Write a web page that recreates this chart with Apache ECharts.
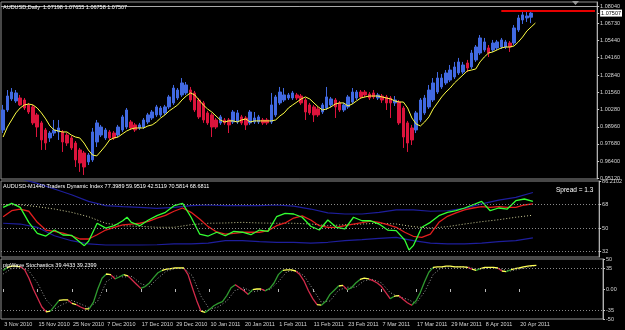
<!DOCTYPE html>
<html><head><meta charset="utf-8">
<script src="https://cdn.jsdelivr.net/npm/echarts@6/dist/echarts.min.js"></script>
<style>html,body{margin:0;padding:0;background:#000}#c{width:625px;height:330px}</style>
</head><body><div id="c"></div><script>
// ---------- data ----------
const monthNames = ['Jan','Feb','Mar','Apr','May','Jun','Jul','Aug','Sep','Oct','Nov','Dec'];
const barCount = 140; // includes empty chart-shift space on the right
const opens = [0.9873,1.0023,1.0106,1.0091,1.0113,1.0098,1.0061,1.0046,0.9986,0.9926,
0.9873,0.9813,0.9850,0.9858,0.9858,0.9835,0.9813,0.9775,0.9723,0.9700,
0.9633,0.9648,0.9783,0.9835,0.9813,0.9858,0.9850,0.9835,0.9873,0.9895,
0.9933,0.9911,0.9888,0.9895,0.9933,0.9963,0.9986,0.9986,1.0001,1.0046,
1.0076,1.0113,1.0136,1.0151,1.0173,1.0151,1.0098,1.0076,1.0001,0.9986,
0.9948,0.9926,0.9948,0.9948,0.9933,0.9933,0.9971,0.9963,0.9926,0.9933,
0.9933,0.9948,0.9948,0.9933,0.9986,1.0076,1.0098,1.0113,1.0113,1.0136,
1.0128,1.0098,1.0061,1.0046,1.0031,1.0008,1.0038,1.0061,1.0098,1.0076,
1.0023,1.0046,1.0083,1.0113,1.0158,1.0158,1.0143,1.0151,1.0113,1.0128,
1.0121,1.0113,1.0076,1.0083,1.0038,0.9926,0.9888,0.9873,0.9948,1.0001,
1.0046,1.0098,1.0158,1.0196,1.0226,1.0248,1.0271,1.0301,1.0308,1.0376,
1.0346,1.0399,1.0451,1.0474,1.0489,1.0474,1.0489,1.0496,1.0496,1.0526,
1.0526,1.0624,1.0699,1.0714,1.07198];
const closes = [1.0023,1.0128,1.0158,1.0151,1.0061,1.0038,1.0008,0.9926,0.9895,0.9798,
0.9775,0.9850,0.9873,0.9888,0.9783,0.9775,0.9738,0.9648,0.9625,0.9595,
0.9685,0.9858,0.9926,0.9895,0.9873,0.9813,0.9813,0.9895,0.9971,1.0023,
0.9888,0.9873,0.9911,0.9948,0.9986,1.0008,1.0046,1.0038,1.0046,1.0121,
1.0188,1.0173,1.0226,1.0211,1.0098,1.0023,0.9971,0.9948,0.9926,0.9895,
0.9895,0.9971,0.9926,0.9911,1.0008,1.0001,0.9926,0.9911,1.0008,0.9963,
0.9971,0.9926,0.9926,1.0061,1.0121,1.0158,1.0136,1.0136,1.0151,1.0113,
1.0076,1.0008,1.0001,0.9986,0.9986,1.0061,1.0121,1.0106,1.0046,1.0023,
1.0061,1.0121,1.0158,1.0158,1.0121,1.0136,1.0113,1.0121,1.0136,1.0098,
1.0076,1.0076,1.0098,0.9926,0.9820,0.9775,0.9798,1.0001,1.0098,1.0113,
1.0173,1.0226,1.0263,1.0263,1.0301,1.0323,1.0346,1.0384,1.0361,1.0338,
1.0451,1.0496,1.0564,1.0534,1.0451,1.0526,1.0534,1.0549,1.0534,1.0496,
1.0639,1.0714,1.0737,1.0729,1.07507];
const lows = [0.9850,1.0008,1.0091,1.0076,1.0053,1.0023,0.9993,0.9911,0.9820,0.9723,
0.9723,0.9783,0.9828,0.9798,0.9708,0.9753,0.9723,0.9595,0.9558,0.9535,
0.9610,0.9633,0.9745,0.9820,0.9798,0.9798,0.9798,0.9820,0.9858,0.9880,
0.9873,0.9858,0.9873,0.9880,0.9918,0.9948,0.9971,0.9971,0.9986,1.0031,
1.0061,1.0098,1.0121,1.0136,1.0083,1.0008,0.9956,0.9926,0.9911,0.9820,
0.9880,0.9911,0.9911,0.9850,0.9918,0.9918,0.9911,0.9873,0.9911,0.9918,
0.9918,0.9911,0.9911,0.9918,0.9971,1.0061,1.0083,1.0098,1.0098,1.0098,
1.0061,0.9948,0.9986,0.9933,0.9971,0.9993,1.0023,1.0046,0.9963,1.0008,
1.0008,1.0031,1.0068,1.0098,1.0106,1.0121,1.0098,1.0106,1.0098,1.0076,
1.0023,0.9963,1.0053,0.9911,0.9738,0.9708,0.9760,0.9850,0.9933,0.9986,
1.0031,1.0083,1.0143,1.0181,1.0211,1.0233,1.0256,1.0286,1.0293,1.0308,
1.0331,1.0384,1.0436,1.0459,1.0421,1.0459,1.0474,1.0481,1.0481,1.0459,
1.0511,1.0609,1.0669,1.0684,1.06758];
const highs = [1.0061,1.0173,1.0188,1.0173,1.0136,1.0113,1.0076,1.0061,1.0001,0.9941,
0.9888,0.9865,0.9948,0.9948,0.9873,0.9850,0.9828,0.9790,0.9738,0.9715,
0.9700,0.9888,0.9948,0.9911,0.9888,0.9873,0.9865,0.9911,0.9986,1.0038,
0.9948,0.9926,0.9926,0.9963,1.0001,1.0023,1.0061,1.0053,1.0061,1.0136,
1.0211,1.0188,1.0263,1.0233,1.0196,1.0166,1.0113,1.0091,1.0016,1.0001,
0.9963,0.9986,0.9963,0.9963,1.0023,1.0023,0.9986,0.9978,1.0023,1.0008,
0.9986,0.9963,0.9963,1.0151,1.0136,1.0196,1.0188,1.0151,1.0166,1.0151,
1.0143,1.0113,1.0076,1.0061,1.0046,1.0076,1.0196,1.0121,1.0113,1.0091,
1.0076,1.0136,1.0188,1.0173,1.0173,1.0173,1.0158,1.0173,1.0151,1.0143,
1.0136,1.0128,1.0128,1.0098,1.0053,0.9941,0.9911,1.0016,1.0113,1.0136,
1.0211,1.0263,1.0308,1.0293,1.0323,1.0361,1.0384,1.0414,1.0384,1.0399,
1.0474,1.0511,1.0586,1.0564,1.0511,1.0549,1.0549,1.0564,1.0549,1.0541,
1.0661,1.0737,1.0759,1.0759,1.07655];
const maValues = [0.9820,0.9895,0.9948,1.0001,1.0038,1.0061,1.0068,1.0061,1.0038,1.0001,
0.9956,0.9903,0.9873,0.9865,0.9858,0.9858,0.9835,0.9820,0.9813,0.9775,
0.9723,0.9685,0.9678,0.9715,0.9753,0.9798,0.9813,0.9820,0.9843,0.9865,
0.9880,0.9888,0.9888,0.9888,0.9903,0.9911,0.9933,0.9963,0.9986,1.0016,
1.0038,1.0061,1.0098,1.0128,1.0151,1.0136,1.0098,1.0061,1.0031,1.0008,
0.9978,0.9948,0.9933,0.9941,0.9941,0.9933,0.9948,0.9956,0.9933,0.9941,
0.9941,0.9941,0.9941,0.9941,0.9948,0.9978,1.0001,1.0038,1.0061,1.0083,
1.0106,1.0121,1.0106,1.0076,1.0046,1.0023,1.0031,1.0046,1.0068,1.0076,
1.0076,1.0053,1.0068,1.0091,1.0113,1.0121,1.0128,1.0128,1.0128,1.0121,
1.0113,1.0106,1.0091,1.0083,1.0083,1.0038,0.9963,0.9918,0.9903,0.9933,
0.9971,1.0031,1.0076,1.0121,1.0158,1.0188,1.0226,1.0256,1.0286,1.0316,
1.0323,1.0331,1.0384,1.0421,1.0451,1.0459,1.0474,1.0489,1.0496,1.0496,
1.0504,1.0534,1.0571,1.0616,1.0646,1.0676];
const bidPrice = 1.07507;
const resistancePrice = 1.0772;
const priceTicks = [1.0804,1.07507,1.0673,1.0544,1.0416,1.0284,1.0156,1.0028,0.9896,0.9768,0.9640,0.9512];

// Traders Dynamic Index: [bar index, value]
const tdiRsi = [[0,66.0],[2,69.1],[4,66.0],[6,54.5],[8,46.1],[10,44.0],[12,48.6],[14,44.8],[16,44.5],[18,39.2],[19,36.6],[20,40.0],[22,53.8],[24,50.1],[26,51.9],[28,55.7],[29,58.4],[30,54.5],[32,51.9],[34,56.3],[36,59.6],[38,62.2],[40,67.3],[42,69.1],[44,58.4],[46,45.5],[48,44.0],[50,46.9],[52,44.2],[54,47.6],[56,46.9],[58,45.0],[60,48.6],[62,47.6],[64,58.8],[66,61.4],[68,60.9],[70,58.4],[72,51.5],[74,48.6],[76,56.3],[78,50.7],[80,49.4],[82,58.4],[84,55.7],[86,55.7],[88,53.2],[90,48.6],[92,48.1],[94,40.9],[95,33.3],[96,36.6],[98,50.7],[100,54.5],[102,59.6],[104,62.2],[106,63.4],[108,65.5],[110,68.0],[112,70.6],[114,63.4],[116,65.5],[118,64.7],[120,71.1],[122,72.4],[124,70.58]];
const tdiSignal = [[0,58.8],[2,63.4],[4,64.7],[6,63.0],[8,54.5],[10,48.6],[12,47.6],[14,46.3],[16,44.2],[18,41.7],[20,41.7],[22,45.0],[24,48.6],[26,50.7],[28,52.5],[30,53.2],[32,53.8],[34,55.3],[36,57.8],[38,59.9],[40,63.0],[42,65.5],[44,62.2],[46,57.1],[48,51.2],[50,47.1],[52,45.5],[54,46.1],[56,46.9],[58,46.9],[60,46.9],[62,48.1],[64,51.9],[66,54.0],[68,57.8],[70,59.4],[72,56.3],[74,51.9],[76,50.7],[78,50.7],[80,51.9],[82,53.2],[84,54.2],[86,55.5],[88,54.5],[90,52.7],[92,50.7],[94,46.9],[96,43.8],[98,43.0],[100,45.5],[102,54.5],[104,59.1],[106,61.7],[108,64.0],[110,65.5],[112,66.5],[114,66.0],[116,66.5],[118,66.0],[120,66.0],[122,67.8],[124,68.68]];
const tdiUpper = [[0,90],[4,88],[8,84.4],[12,80.1],[16,75.7],[20,70.6],[24,67.3],[28,66.5],[32,66.0],[36,65.2],[40,66.0],[44,67.3],[48,67.8],[52,67.3],[56,67.3],[60,67.3],[64,67.8],[68,67.0],[72,64.7],[76,61.7],[80,60.9],[84,60.9],[88,62.2],[92,64.0],[96,64.0],[100,63.0],[104,63.4],[108,65.2],[112,68.6],[116,71.6],[120,73.7],[124,77.40]];
const tdiLower = [[0,53.8],[4,53.2],[8,50.7],[12,44.2],[16,40.4],[20,37.9],[24,37.1],[28,37.1],[32,37.1],[36,37.3],[40,37.9],[44,37.9],[48,38.6],[52,40.4],[56,40.4],[60,39.7],[64,39.2],[68,39.2],[72,38.6],[76,39.2],[80,40.4],[84,41.2],[88,42.2],[92,43.0],[96,40.4],[100,38.6],[104,37.9],[108,37.9],[112,38.6],[116,39.7],[120,40.4],[124,42.51]];
const tdiBase = [[0,68.0],[4,68.0],[8,66.5],[12,64.7],[16,62.2],[20,58.8],[24,53.8],[28,51.9],[32,51.4],[36,50.7],[40,50.7],[44,52.7],[48,53.8],[52,54.0],[56,54.5],[60,54.0],[64,53.8],[68,53.8],[72,53.2],[76,51.9],[80,52.7],[84,53.2],[88,53.8],[92,53.2],[96,51.2],[100,50.1],[104,51.2],[108,53.2],[112,55.0],[116,56.5],[120,58.4],[124,59.95]];
const tdiLevels = [68, 50, 32];
const tdiTicks = [86.2102, 68, 50, 32, 27.9037];

// pipWave stochastics
const stochMain = [31,36,38,38,37,32,18,0,-15,-30,
-38,-37,-28,-19,-18,-18,-24,-26,-30,-33,
-33,-22,0,18,25,24,17,20,24,22,
15,8,1,4,10,19,27,31,33,34,
35,35,35,24,2,-19,-37,-39,-34,-28,
-24,-21,-11,2,7,2,-3,-9,-1,0,
0,-3,1,10,24,31,32,32,30,24,
13,-3,-16,-26,-27,-21,-9,-2,5,6,
-1,2,10,16,18,17,14,10,4,-6,
-16,-12,-11,-17,-23,-27,-20,-6,12,28,
36,37,37,38,38,37,37,37,36,33,
31,34,36,36,36,35,30,29,32,34,
35,37,38,39,39.44];
const stochSignal = [[0,25],[2,34],[4,37],[6,30],[8,10],[10,-18],[12,-33],[14,-25],[16,-19],[18,-25],[20,-31],[22,-20],[24,12],[26,22],[28,20],[30,21],[32,9],[34,4],[36,18],[38,30],[40,34],[42,35],[44,22],[46,-12],[48,-34],[50,-30],[52,-20],[54,-2],[56,2],[58,-5],[60,-2],[62,-1],[64,12],[66,29],[68,31],[70,22],[72,0],[74,-22],[76,-20],[78,-2],[80,3],[82,3],[84,14],[86,16],[88,10],[90,-6],[92,-13],[94,-17],[96,-24],[98,-5],[100,24],[102,36],[104,37],[106,37],[108,37],[110,33],[112,34],[114,36],[116,33],[118,30],[120,33],[122,36],[124,39.24]];
const stochLevels = [35, -35];
const stochTicks = [50, 35, 0, -35, -50];

// ---------- build ----------
function tradingDays(n){
  const out=[]; const d=new Date(Date.UTC(2010,10,3));
  while(out.length<n){
    const wd=d.getUTCDay();
    if(wd!==0&&wd!==6) out.push(d.getUTCDate()+' '+monthNames[d.getUTCMonth()]+' '+d.getUTCFullYear());
    d.setUTCDate(d.getUTCDate()+1);
  }
  return out;
}
const cats = tradingDays(barCount);
const lastBar = opens.length - 1;
const candleData = opens.map((o,i)=>[o, closes[i], lows[i], highs[i]]);

const FONT = 'Liberation Sans';
const labelColor = '#d6d6d6';
const borderColor = '#8e8e8e';
const showDate = (i)=> i % 8 === 0 && i <= lastBar - 4;

const pieces = [];
for(let i=0;i<stochMain.length-1;i++){
  const d = stochMain[i+1]-stochMain[i];
  const c = Math.abs(d) < 3 ? '#ffff55' : (d > 0 ? '#2f9a2f' : '#d42a4a');
  pieces.push({gt:i, lte:i+1, color:c});
}

function xAx(g, showLabels){
  return {type:'category', gridIndex:g, data:cats, boundaryGap:true,
    axisLine:{show:false}, splitLine:{show:false},
    axisTick:{show:showLabels, interval:(i)=>showDate(i), alignWithLabel:true, length:3, lineStyle:{color:'#b8b8b8'}},
    axisLabel:{show:showLabels, interval:(i)=>showDate(i), align:'left', margin:2, padding:[0,0,0,1],
      color:labelColor, fontSize:5.5, fontFamily:FONT}};
}
function yAx(g, min, max, ticks, fmt, rich){
  return {type:'value', gridIndex:g, position:'right', min, max, scale:true,
    splitLine:{show:false},
    axisLine:{show:true, lineStyle:{color:'#b0b0b0'}},
    axisTick:{show:true, customValues:ticks, length:2, lineStyle:{color:'#c8c8c8'}},
    axisLabel:{customValues:ticks, formatter:fmt, margin:3, color:labelColor, fontSize:5.5, fontFamily:FONT, rich:rich||{}}};
}
const ts = (size)=>({color:'#ffffff', fontSize:size, fontWeight:'normal', fontFamily:FONT});
const priceFmt = (v)=> Math.abs(v-bidPrice) < 1e-7 ? '{bid|'+bidPrice.toFixed(5)+'}' : v.toFixed(5);

const option = {
  backgroundColor:'#000000',
  animation:false,
  title:[
    {text:'AUDUSD,Daily  1.07198 1.07655 1.06758 1.07507', left:3, top:4, padding:0, textStyle:ts(5.5)},
    {text:'AUDUSD-M1440 Traders Dynamic Index 77.3989 59.9519 42.5119 70.5814 68.6811', left:3, top:183, padding:0, textStyle:ts(5.5)},
    {text:'pipWave Stochastics 39.4433 39.2399', left:3, top:262, padding:0, textStyle:ts(5.5)},
    {text:'Spread = 1.3', left:556, top:187, padding:0, textStyle:ts(6.5)}
  ],
  graphic:[{type:'polygon', shape:{points:[[572,1],[579,1],[575.5,5]]}, style:{fill:'#9a9a9a'}, silent:true}],
  grid:[
    {left:1, right:22, top:2, height:177, show:true, borderColor, borderWidth:1},
    {left:1, right:22, top:181, height:76, show:true, borderColor, borderWidth:1},
    {left:1, right:22, top:259, height:60, show:true, borderColor, borderWidth:1}
  ],
  xAxis:[xAx(0,false), xAx(1,false), xAx(2,true)],
  yAxis:[
    yAx(0, 0.95048, 1.0834, priceTicks, priceFmt,
      {bid:{backgroundColor:'#ffffff', color:'#000000', fontSize:5.5, fontFamily:FONT, padding:[1,1,0,1]}}),
    yAx(1, 27.9037, 86.2102, tdiTicks, (v)=>Number.isInteger(v)?String(v):v.toFixed(4)),
    yAx(2, -50, 50, stochTicks, (v)=>v===0?'0.00':String(v))
  ],
  visualMap:[{type:'piecewise', show:false, dimension:0, seriesIndex:9, pieces, outOfRange:{color:'#ffff55'}}],
  series:[
    {type:'candlestick', xAxisIndex:0, yAxisIndex:0, data:candleData, barWidth:3,
      itemStyle:{color:'#4169e1', color0:'#dc143c', borderColor:'#4169e1', borderColor0:'#dc143c', borderWidth:1},
      markLine:{silent:true, symbol:['none','none'], animation:false, label:{show:false},
        data:[
          {yAxis:bidPrice, lineStyle:{color:'#a8a8a8', width:1, type:'solid'}},
          [{coord:[cats[117], resistancePrice], lineStyle:{color:'#e60000', width:2, type:'solid'}},
           {coord:[cats[barCount-1], resistancePrice]}]
        ]}},
    {type:'line', xAxisIndex:0, yAxisIndex:0, data:maValues, symbol:'none', lineStyle:{color:'#ffff44', width:1}, z:5},
    {type:'line', xAxisIndex:1, yAxisIndex:1, data:tdiUpper, symbol:'none', lineStyle:{color:'#1e1e9c', width:1.2},
      markLine:{silent:true, symbol:['none','none'], animation:false, label:{show:false},
        lineStyle:{color:'#8a8a8a', type:[1,2], width:1}, data:tdiLevels.map(v=>({yAxis:v}))}},
    {type:'line', xAxisIndex:1, yAxisIndex:1, data:tdiLower, symbol:'none', lineStyle:{color:'#1e1e9c', width:1.2}},
    {type:'line', xAxisIndex:1, yAxisIndex:1, data:tdiBase, symbol:'none', lineStyle:{color:'#d0d09a', width:1, type:[1,2]}},
    {type:'line', xAxisIndex:1, yAxisIndex:1, data:tdiSignal, symbol:'none', lineStyle:{color:'#e41e1e', width:1.3}},
    {type:'line', xAxisIndex:1, yAxisIndex:1, data:tdiRsi, symbol:'none', lineStyle:{color:'#33ff33', width:1.3}},
    {type:'line', xAxisIndex:2, yAxisIndex:2, data:[], symbol:'none'},
    {type:'line', xAxisIndex:2, yAxisIndex:2, data:stochSignal, symbol:'none', lineStyle:{color:'#9a9a9a', width:1, type:[1,2]},
      markLine:{silent:true, symbol:['none','none'], animation:false, label:{show:false},
        lineStyle:{color:'#8a8a8a', type:[1,2], width:1}, data:stochLevels.map(v=>({yAxis:v}))}},
    {type:'line', xAxisIndex:2, yAxisIndex:2, data:stochMain, symbol:'none', lineStyle:{width:1.3}, z:4}
  ]
};
const chart = echarts.init(document.getElementById('c'), null, {renderer:'canvas'});
chart.setOption(option);
</script></body></html>
